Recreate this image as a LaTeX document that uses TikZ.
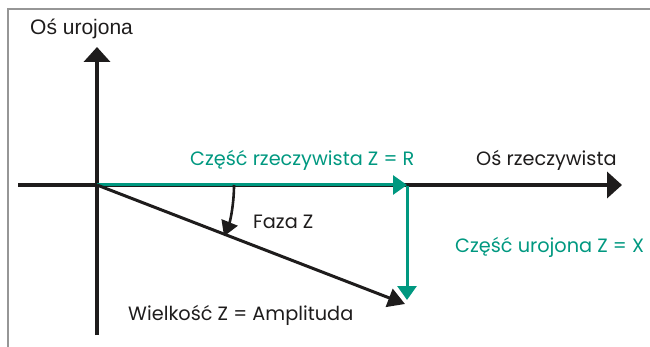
\documentclass[tikz,border=0pt]{standalone}
\usepackage{fontspec}
\setmainfont{Poppins}
\newfontfamily\axisfont{Liberation Sans}
\usetikzlibrary{arrows.meta}
\definecolor{phasorteal}{RGB}{0,152,128}
\definecolor{framegray}{RGB}{150,150,150}
\definecolor{inkblack}{RGB}{30,28,28}
\tikzset{
  axisline/.style={draw=inkblack, line width=4.5pt, -{Triangle[width=26pt,length=15pt]}},
  partline/.style={draw=phasorteal, line width=3pt, -{Triangle[width=19pt,length=14pt]}},
  magline/.style={draw=inkblack, line width=3pt, -{Triangle[width=19pt,length=17pt]}},
  phasearc/.style={draw=inkblack, line width=2.6pt, -{Triangle[width=17pt,length=15pt]}},
  lbl/.style={inner sep=0pt, anchor=base west, font=\fontsize{19.3}{23}\selectfont},
  teallbl/.style={lbl, text=phasorteal},
  blacklbl/.style={lbl, text=inkblack},
}
\begin{document}
\begin{tikzpicture}[x=1pt, y=-1pt]
  \useasboundingbox (0,0) rectangle (650,347);
  % frame edges
  \draw[framegray, line width=1.2pt] (8,347) -- (8,9) -- (650,9);

  % key points of the phasor diagram
  \coordinate (O) at (97,185);
  \coordinate (ytop) at (97,47);
  \coordinate (ybot) at (97,335);
  \coordinate (xleft) at (18,185);
  \coordinate (xright) at (622,185);
  \coordinate (R) at (407,185);
  \coordinate (X) at (407,300);
  \coordinate (Z) at (405,304);

  % axes
  \draw[axisline] (ybot) -- (ytop);
  \draw[axisline] (xleft) -- (xright);

  % real and imaginary parts
  \draw[partline] (O) -- (R);
  \draw[partline] ([yshift=-1.5pt]R) -- (X);

  % magnitude
  \draw[magline] (O) -- (Z);

  % phase angle
  \draw[phasearc] (O) ++(0:137) arc[start angle=0, end angle=22, radius=137];

  % labels
  \node[lbl, font=\axisfont\fontsize{21}{25}\selectfont, text=inkblack] (imlbl) at (30,35) {Oś urojona};
  \node[blacklbl] (relbl) at (476,166) {Oś rzeczywista};
  \node[teallbl] (rlbl) at (190,166) {Część rzeczywista Z = R};
  \node[teallbl] (xlbl) at (455,252) {Część urojona Z = X};
  \node[blacklbl] (phlbl) at (253,229) {Faza Z};
  \node[blacklbl] (zlbl) at (128,320) {Wielkość Z = Amplituda};
\end{tikzpicture}
\end{document}
